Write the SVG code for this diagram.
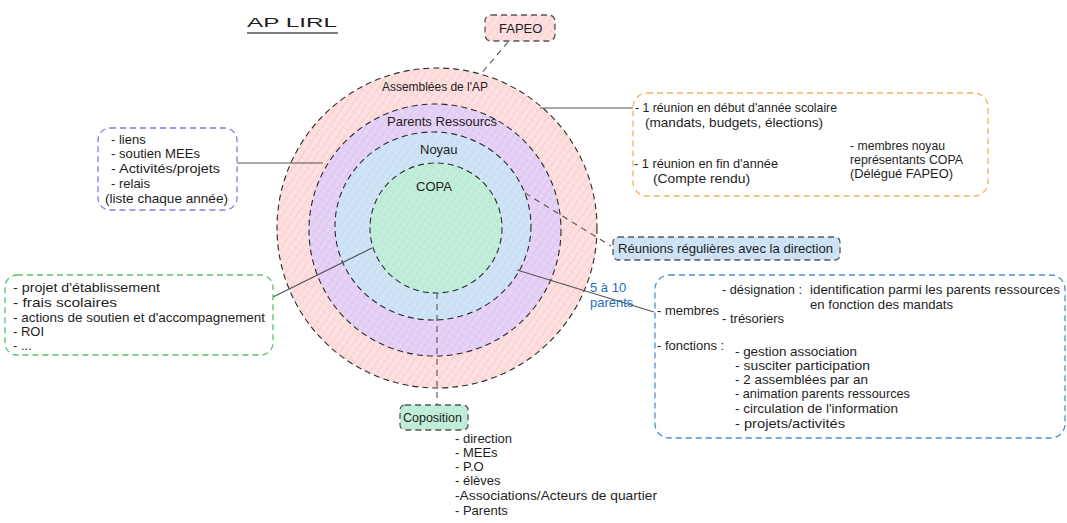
<svg xmlns="http://www.w3.org/2000/svg" width="1067" height="523" viewBox="0 0 1067 523">
<defs>
<style>
text{font-family:"Liberation Sans",Arial,sans-serif;font-size:13px;fill:#1e1e1e}
.ring{stroke:#2b2b2b;stroke-width:1.1;stroke-dasharray:6 4}
.box{stroke-width:1.3;stroke-dasharray:6 4}
.gbox{stroke:#555;stroke-width:1.3;stroke-dasharray:6 4}
.line{stroke:#555;stroke-width:1.2;fill:none}
.dline{stroke:#555;stroke-width:1.1;stroke-dasharray:6 5;fill:none}
.blue{fill:#1c6fc4}
</style>
<pattern id="hPink" width="6" height="6" patternUnits="userSpaceOnUse" patternTransform="rotate(35)">
<rect width="6" height="6" fill="#fde0e0"/><line x1="0" y1="0" x2="0" y2="6" stroke="#f6b4b4" stroke-width="0.8"/><line x1="0" y1="3" x2="6" y2="3" stroke="#f9caca" stroke-width="0.5"/></pattern>
<pattern id="hPurple" width="6" height="6" patternUnits="userSpaceOnUse" patternTransform="rotate(35)">
<rect width="6" height="6" fill="#e6d3f5"/><line x1="0" y1="0" x2="0" y2="6" stroke="#cfaeec" stroke-width="0.8"/><line x1="0" y1="3" x2="6" y2="3" stroke="#dac1f0" stroke-width="0.5"/></pattern>
<pattern id="hBlue" width="6" height="6" patternUnits="userSpaceOnUse" patternTransform="rotate(35)">
<rect width="6" height="6" fill="#d0e4f6"/><line x1="0" y1="0" x2="0" y2="6" stroke="#afcfee" stroke-width="0.8"/><line x1="0" y1="3" x2="6" y2="3" stroke="#c1daf2" stroke-width="0.5"/></pattern>
<pattern id="hGreen" width="6" height="6" patternUnits="userSpaceOnUse" patternTransform="rotate(35)">
<rect width="6" height="6" fill="#c3eedc"/><line x1="0" y1="0" x2="0" y2="6" stroke="#9fe0c5" stroke-width="0.8"/><line x1="0" y1="3" x2="6" y2="3" stroke="#b2e8d1" stroke-width="0.5"/></pattern>
</defs>
<rect width="1067" height="523" fill="#ffffff"/>

<g id="title">
<text x="247" y="27" font-size="21" textLength="90" lengthAdjust="spacingAndGlyphs">AP LIRL</text>
<line x1="247" y1="33" x2="338" y2="33" stroke="#555" stroke-width="1.3"/>
</g>

<g id="circle-assemblees">
<circle cx="437" cy="228" r="160" fill="url(#hPink)" class="ring"/>
<text x="382" y="91" textLength="106" lengthAdjust="spacingAndGlyphs">Assemblées de l'AP</text>
</g>
<g id="circle-parents-ressources">
<circle cx="435" cy="230" r="126" fill="url(#hPurple)" class="ring"/>
<text x="387" y="126" textLength="110" lengthAdjust="spacingAndGlyphs">Parents Ressourcs</text>
</g>
<g id="circle-noyau">
<ellipse cx="433" cy="226" rx="98" ry="94" fill="url(#hBlue)" class="ring"/>
<text x="420" y="154">Noyau</text>
</g>
<g id="circle-copa">
<ellipse cx="436" cy="228" rx="66" ry="65" fill="url(#hGreen)" class="ring"/>
<text x="416" y="191">COPA</text>
</g>

<g id="connectors">
<line class="dline" x1="508" y1="42" x2="480" y2="75"/>
<line class="line" x1="540" y1="108" x2="633" y2="108"/>
<line class="line" x1="237" y1="163" x2="323" y2="163"/>
<line class="dline" x1="773" y1="132" x2="847" y2="150"/>
<line class="dline" x1="525" y1="193" x2="611" y2="246"/>
<line class="line" x1="273" y1="297" x2="372" y2="248"/>
<line class="line" x1="517" y1="270" x2="654" y2="312"/>
<line class="dline" x1="437" y1="293" x2="437" y2="405"/>
</g>

<g id="node-fapeo">
<rect x="485" y="15" width="70" height="26" rx="6" fill="url(#hPink)" class="gbox"/>
<text x="499" y="33">FAPEO</text>
</g>

<g id="node-roles">
<rect x="98" y="128" width="139" height="82" rx="12" fill="#ffffff" stroke="#8f76e8" class="box"/>
<text x="111" y="144">- liens</text>
<text x="111" y="158" textLength="89" lengthAdjust="spacingAndGlyphs">- soutien MEEs</text>
<text x="111" y="173" textLength="109" lengthAdjust="spacingAndGlyphs">- Activités/projets</text>
<text x="111" y="188">- relais</text>
<text x="105" y="203" textLength="123" lengthAdjust="spacingAndGlyphs">(liste chaque année)</text>
</g>

<g id="node-assemblees">
<rect x="633" y="93" width="355" height="103" rx="14" fill="#ffffff" stroke="#f5b25e" class="box"/>
<text x="635" y="112" textLength="202" lengthAdjust="spacingAndGlyphs">- 1 réunion en début d'année scolaire</text>
<text x="645" y="127" textLength="178" lengthAdjust="spacingAndGlyphs">(mandats, budgets, élections)</text>
<text x="850" y="150" textLength="95" lengthAdjust="spacingAndGlyphs">- membres noyau</text>
<text x="850" y="164" textLength="113" lengthAdjust="spacingAndGlyphs">représentants COPA</text>
<text x="850" y="178" textLength="103" lengthAdjust="spacingAndGlyphs">(Délégué FAPEO)</text>
<text x="634" y="168" textLength="144" lengthAdjust="spacingAndGlyphs">- 1 réunion en fin d'année</text>
<text x="653" y="183" textLength="97" lengthAdjust="spacingAndGlyphs">(Compte rendu)</text>
</g>

<g id="node-copa-topics">
<rect x="5" y="275" width="268" height="80" rx="12" fill="#ffffff" stroke="#5cbf6c" class="box"/>
<text x="13" y="292" textLength="147" lengthAdjust="spacingAndGlyphs">- projet d'établissement</text>
<text x="13" y="307" textLength="104" lengthAdjust="spacingAndGlyphs">- frais scolaires</text>
<text x="13" y="322" textLength="252" lengthAdjust="spacingAndGlyphs">- actions de soutien et d'accompagnement</text>
<text x="13" y="336">- ROI</text>
<text x="13" y="350">- ...</text>
</g>

<g id="label-parents">
<text class="blue" x="590" y="292">5 à 10</text>
<text class="blue" x="590" y="307">parents</text>
</g>

<g id="node-noyau">
<rect x="655" y="275" width="410" height="163" rx="14" fill="#ffffff" stroke="#4a8fd6" class="box"/>
<text x="722" y="294" textLength="80" lengthAdjust="spacingAndGlyphs">- désignation :</text>
<text x="810" y="294" textLength="250" lengthAdjust="spacingAndGlyphs">identification parmi les parents ressources</text>
<text x="810" y="309" textLength="143" lengthAdjust="spacingAndGlyphs">en fonction des mandats</text>
<text x="657" y="315">- membres</text>
<text x="722" y="323">- trésoriers</text>
<text x="657" y="350">- fonctions :</text>
<text x="735" y="356" textLength="122" lengthAdjust="spacingAndGlyphs">- gestion association</text>
<text x="735" y="370" textLength="135" lengthAdjust="spacingAndGlyphs">- susciter participation</text>
<text x="735" y="384" textLength="133" lengthAdjust="spacingAndGlyphs">- 2 assemblées par an</text>
<text x="735" y="398" textLength="175" lengthAdjust="spacingAndGlyphs">- animation parents ressources</text>
<text x="735" y="413" textLength="163" lengthAdjust="spacingAndGlyphs">- circulation de l'information</text>
<text x="735" y="428" textLength="110" lengthAdjust="spacingAndGlyphs">- projets/activités</text>
</g>

<g id="node-reunions">
<rect x="613" y="237" width="227" height="23" rx="5" fill="url(#hBlue)" class="gbox"/>
<text x="618" y="253" textLength="215" lengthAdjust="spacingAndGlyphs">Réunions régulières avec la direction</text>
</g>

<g id="node-composition">
<rect x="400" y="405" width="68" height="25" rx="5" fill="url(#hGreen)" class="gbox"/>
<text x="403" y="422" textLength="59" lengthAdjust="spacingAndGlyphs">Coposition</text>
<text x="455" y="443">- direction</text>
<text x="455" y="457">- MEEs</text>
<text x="455" y="471">- P.O</text>
<text x="455" y="485">- élèves</text>
<text x="455" y="500" textLength="202" lengthAdjust="spacingAndGlyphs">-Associations/Acteurs de quartier</text>
<text x="455" y="515">- Parents</text>
</g>
</svg>
